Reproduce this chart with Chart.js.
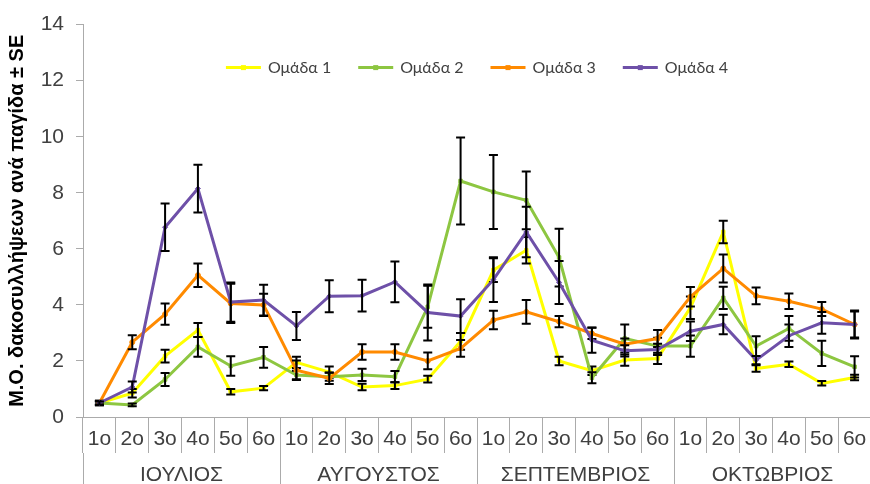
<!DOCTYPE html>
<html>
<head>
<meta charset="utf-8">
<script src="https://cdn.jsdelivr.net/npm/chart.js@4.4.1/dist/chart.umd.min.js"></script>
<style>
    html, body { margin: 0; padding: 0; background: #fff; overflow: hidden; }
    .wrap { width: 870px; height: 484px; overflow: hidden; }
</style>
</head>
<body>
<div class="wrap">
    <canvas id="chart" width="876" height="500" style="width:876px;height:500px"></canvas>
</div>
<script>
const weeks = ['1o', '2o', '3o', '4o', '5o', '6o',
    '1o', '2o', '3o', '4o', '5o', '6o',
    '1o', '2o', '3o', '4o', '5o', '6o',
    '1o', '2o', '3o', '4o', '5o', '6o'];
const months = ['ΙΟΥΛΙΟΣ', 'ΑΥΓΟΥΣΤΟΣ', 'ΣΕΠΤΕΜΒΡΙΟΣ', 'ΟΚΤΩΒΡΙΟΣ'];
const yTicks = [0, 2, 4, 6, 8, 10, 12, 14];

const group1 = [0.5, 0.85, 2.17, 3.1, 0.9, 1.03,
    1.95, 1.6, 1.07, 1.12, 1.35, 2.7,
    5.24, 5.95, 2.0, 1.65, 2.03, 2.09,
    3.9, 6.6, 1.73, 1.88, 1.2, 1.41];
const group1Se = [0.08, 0.15, 0.23, 0.25, 0.1, 0.08,
    0.2, 0.2, 0.12, 0.12, 0.12, 0.3,
    0.42, 0.47, 0.15, 0.15, 0.2, 0.2,
    0.4, 0.4, 0.12, 0.1, 0.08, 0.1];

const group2 = [0.5, 0.43, 1.34, 2.5, 1.82, 2.13,
    1.5, 1.44, 1.5, 1.44, 3.93, 8.42,
    8.03, 7.73, 5.69, 1.4, 2.8, 2.53,
    2.53, 4.25, 2.53, 3.16, 2.27, 1.79];
const group2Se = [0.05, 0.05, 0.23, 0.35, 0.35, 0.37,
    0.15, 0.15, 0.22, 0.2, 0.75, 1.55,
    1.32, 1.03, 1.03, 0.2, 0.5, 0.3,
    0.38, 0.4, 0.35, 0.44, 0.45, 0.38];

const group3 = [0.5, 2.67, 3.67, 5.06, 4.05, 4.0,
    1.67, 1.38, 2.32, 2.32, 2.0, 2.45,
    3.46, 3.75, 3.4, 2.98, 2.6, 2.8,
    4.29, 5.3, 4.32, 4.13, 3.85, 3.3];
const group3Se = [0.08, 0.25, 0.38, 0.42, 0.7, 0.4,
    0.35, 0.2, 0.28, 0.28, 0.3, 0.3,
    0.33, 0.42, 0.2, 0.2, 0.2, 0.3,
    0.35, 0.5, 0.3, 0.28, 0.25, 0.5];

const group4 = [0.5, 1.07, 6.77, 8.15, 4.1, 4.17,
    3.25, 4.31, 4.33, 4.82, 3.73, 3.6,
    4.9, 6.6, 4.8, 2.74, 2.36, 2.41,
    3.06, 3.3, 2.03, 2.9, 3.36, 3.3];
const group4Se = [0.05, 0.2, 0.85, 0.85, 0.7, 0.55,
    0.5, 0.57, 0.57, 0.73, 1.0, 0.6,
    0.8, 0.9, 0.77, 0.45, 0.2, 0.2,
    0.35, 0.35, 0.15, 0.4, 0.39, 0.46];

const groupNames = ['Ομάδα 1', 'Ομάδα 2', 'Ομάδα 3', 'Ομάδα 4'];
const groupColors = ['#FFFF00', '#8DC641', '#FF8A00', '#6E50A8'];
const axisGray = '#ababab';
const tickFont = { family: '"Liberation Sans", Arial, sans-serif', size: 21 };

// black ± SE bars, drawn right after each series so they sit on its line
const errorBars = {
    id: 'errorBars',
    afterDatasetDraw(chart, args) {
        const ds = chart.data.datasets[args.index];
        const yScale = chart.scales.y;
        const ctx = chart.ctx;
        ctx.save();
        ctx.strokeStyle = '#000';
        ctx.lineWidth = 2;
        args.meta.data.forEach((pt, i) => {
            const top = yScale.getPixelForValue(ds.data[i] + ds.se[i]);
            const bottom = yScale.getPixelForValue(ds.data[i] - ds.se[i]);
            ctx.beginPath();
            ctx.moveTo(pt.x, top);
            ctx.lineTo(pt.x, bottom);
            ctx.moveTo(pt.x - 4.5, top);
            ctx.lineTo(pt.x + 4.5, top);
            ctx.moveTo(pt.x - 4.5, bottom);
            ctx.lineTo(pt.x + 4.5, bottom);
            ctx.stroke();
        });
        ctx.restore();
    }
};

// one-row legend sitting inside the plot, like the Excel original
const insideLegend = {
    id: 'insideLegend',
    afterDraw(chart) {
        const ctx = chart.ctx;
        const area = chart.chartArea;
        const lineLen = 35, gap = 7, spacing = 27;
        ctx.save();
        ctx.font = '16px Lato, "Open Sans", sans-serif';
        const items = chart.data.datasets.map(ds => ({
            ds: ds,
            width: lineLen + gap + ctx.measureText(ds.label).width
        }));
        let total = spacing * (items.length - 1);
        items.forEach(it => { total += it.width; });
        let x = (area.left + area.right) / 2 - total / 2;
        const y = area.top + 43;
        items.forEach(it => {
            ctx.strokeStyle = it.ds.borderColor;
            ctx.lineWidth = 3;
            ctx.beginPath();
            ctx.moveTo(x, y);
            ctx.lineTo(x + lineLen, y);
            ctx.stroke();
            ctx.fillStyle = it.ds.borderColor;
            ctx.fillRect(x + lineLen / 2 - 2.5, y - 2.5, 5, 5);
            ctx.fillStyle = '#404040';
            ctx.textBaseline = 'middle';
            ctx.textAlign = 'left';
            ctx.fillText(it.ds.label, x + lineLen + gap, y);
            x += it.width + spacing;
        });
        ctx.restore();
    }
};

const makeSet = (i, values, se, style) => ({
    label: groupNames[i],
    data: values,
    se: se,
    borderColor: groupColors[i],
    backgroundColor: groupColors[i],
    borderWidth: 3,
    pointStyle: style,
    pointRadius: 2.5,
    pointBorderWidth: 1,
    tension: 0,
    order: 4 - i
});

new Chart(document.getElementById('chart'), {
    type: 'line',
    data: {
        labels: weeks,
        datasets: [
            makeSet(0, group1, group1Se, 'rect'),
            makeSet(1, group2, group2Se, 'rect'),
            makeSet(2, group3, group3Se, 'circle'),
            makeSet(3, group4, group4Se, 'rectRot')
        ]
    },
    options: {
        responsive: false,
        animation: false,
        devicePixelRatio: 1,
        layout: { padding: { top: 24, right: 2, bottom: 0, left: 0 } },
        plugins: {
            tooltip: { enabled: false },
            legend: { display: false }
        },
        scales: {
            x: {
                type: 'category',
                position: 'bottom',
                offset: true,
                grid: { offset: true, drawOnChartArea: false, color: axisGray, tickLength: 36 },
                border: { color: axisGray, width: 1 },
                ticks: { color: '#404040', font: tickFont, padding: -26.5, maxRotation: 0, autoSkip: false },
                afterFit: (scale) => { scale.height = 36; }
            },
            x2: {
                type: 'category',
                position: 'bottom',
                labels: months,
                offset: true,
                grid: { offset: true, drawOnChartArea: false, color: axisGray, tickLength: 47 },
                border: { display: false },
                ticks: { color: '#404040', font: tickFont, padding: -37, maxRotation: 0 },
                afterFit: (scale) => { scale.height = 47; }
            },
            y: {
                min: 0,
                max: 14,
                afterBuildTicks: (scale) => { scale.ticks = yTicks.map(v => ({ value: v })); },
                grid: { drawOnChartArea: false, color: axisGray, tickLength: 7 },
                border: { color: axisGray, width: 1 },
                ticks: { color: '#404040', font: tickFont, padding: 12 },
                title: {
                    display: true,
                    text: 'Μ.Ο. δακοσυλλήψεων ανά παγίδα ± SE',
                    color: '#000',
                    font: { family: '"Liberation Sans", Arial, sans-serif', size: 20, weight: 'bold' },
                    padding: { top: 5, bottom: 0 }
                },
                afterFit: (scale) => { scale.width = 83; }
            }
        }
    },
    plugins: [errorBars, insideLegend]
});
</script>
</body>
</html>
